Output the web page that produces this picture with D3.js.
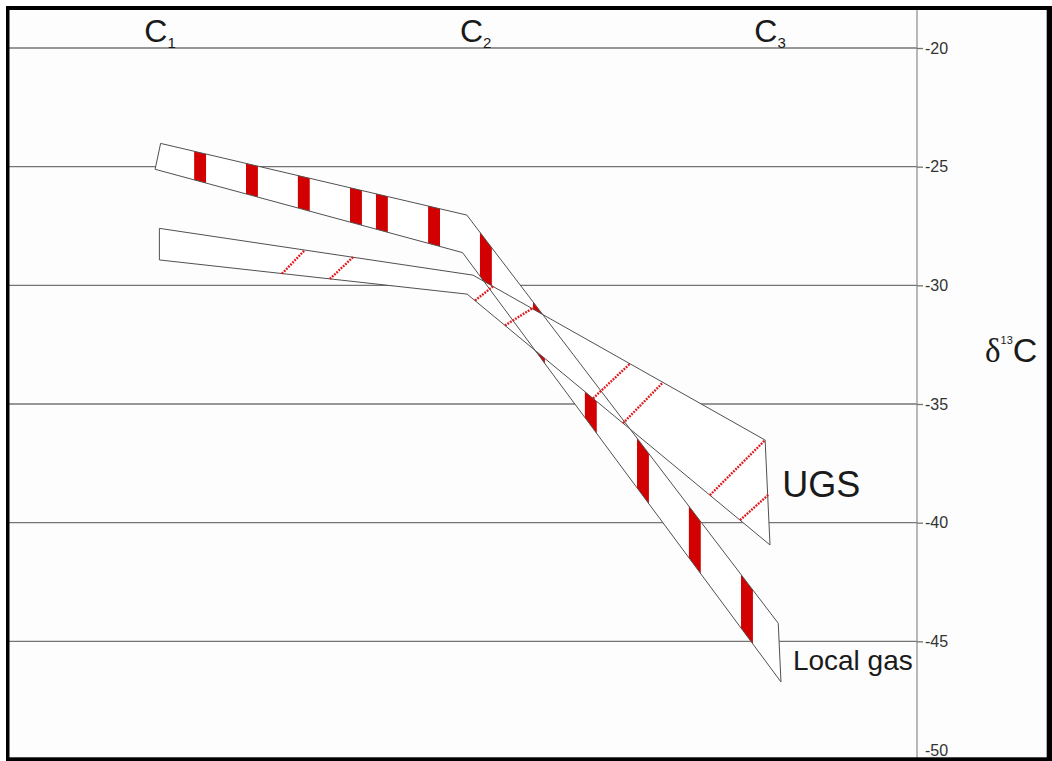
<!DOCTYPE html>
<html>
<head>
<meta charset="utf-8">
<script src="https://cdn.jsdelivr.net/npm/d3@7"></script>
<style>
body { margin:0; background:#fff; }
svg { display:block; font-family: Arial, "Liberation Sans", sans-serif; }
</style>
</head>
<body>
<svg id="chart" width="1052" height="761"></svg>
<script>
"use strict";

var categories = ["C1","C2","C3"];
var categoryPos = [1, 2.035, 3];
var yTicks = [-20,-25,-30,-35,-40,-45,-50];
var gridTicks = [-20,-25,-30,-35,-40,-45];

// band edges as [carbon number, d13C]
var localUpper = [[1.002,-24.02],[2.006,-27.04],[3.027,-44.24]];
var localLower = [[0.984,-25.11],[1.992,-28.62],[3.036,-46.71]];
var ugsUpper = [[0.998,-27.60],[2.026,-29.57],[2.984,-36.52]];
var ugsLower = [[0.998,-28.93],[2.007,-30.37],[3.000,-40.94]];

// red solid stripes of the local gas band (left side, carbon number)
var localStripes = [1.112,1.282,1.452,1.623,1.708,1.879,2.049,2.223,2.393,2.564,2.734,2.905];

// dotted red hatches of the UGS band
var ugsHatch = [
	[[1.400,-29.51],[1.475,-28.51]],
	[[1.557,-29.73],[1.633,-28.81]],
	[[2.033,-30.64],[2.092,-30.04]],
	[[2.131,-31.69],[2.226,-30.93]],
	[[2.420,-34.76],[2.541,-33.30]],
	[[2.518,-35.81],[2.649,-34.09]],
	[[2.803,-38.84],[2.984,-36.52]],
	[[2.902,-39.89],[2.994,-38.83]]
];

var stripeWidth = 0.039;
var W = 1052, H = 761;

var svg = d3.select("#chart");
var x = d3.scaleLinear().domain([1,3]).range([160,770]);
var y = d3.scaleLinear().domain([-20,-50]).range([48,760]);
var line = d3.line().x(function(d){ return x(d[0]); }).y(function(d){ return y(d[1]); });

function polygon(upper, lower) {
	return line(upper.concat(lower.slice().reverse())) + "Z";
}

svg.append("rect").attr("width",W).attr("height",H).attr("fill","#fff");
svg.append("rect").attr("x",9).attr("y",9).attr("width",1040).attr("height",750).attr("fill","#fdfdfd");

// grid
svg.append("g").selectAll("line").data(gridTicks).join("line")
	.attr("x1",9).attr("x2",917)
	.attr("y1",function(d){ return y(d); }).attr("y2",function(d){ return y(d); })
	.attr("stroke","#747474").attr("stroke-width",1.3);

// right axis
svg.append("line").attr("x1",917).attr("x2",917).attr("y1",8).attr("y2",758)
	.attr("stroke","#8a8a8a").attr("stroke-width",1.2);
var axis = d3.axisRight(y).tickValues(yTicks).tickSize(6).tickPadding(2)
	.tickFormat(function(d){ return String(d); });
var ag = svg.append("g").attr("transform","translate(917,0)").call(axis);
ag.select(".domain").remove();
ag.selectAll(".tick line").attr("stroke","#747474").attr("stroke-width",1.3);
ag.selectAll(".tick text").attr("font-size",16).attr("fill","#333")
	.attr("font-family","Arial, 'Liberation Sans', sans-serif");
ag.selectAll(".tick").filter(function(d){ return d === -50; }).select("text").attr("dy","-0.3em");

// category labels
svg.append("g").selectAll("text").data(categories).join("text")
	.attr("x",function(d,i){ return x(categoryPos[i]); })
	.attr("y",42)
	.attr("text-anchor","middle")
	.attr("font-size",32)
	.attr("fill","#1a1a1a")
	.each(function(d){
		var t = d3.select(this);
		t.append("tspan").text(d.charAt(0));
		t.append("tspan").attr("font-size",15).attr("dy",6).text(d.slice(1));
	});

// bands
svg.append("defs").append("clipPath").attr("id","localClip")
	.append("path").attr("d",polygon(localUpper, localLower));

svg.append("path").attr("d",polygon(localUpper, localLower)).attr("fill","#fff");
svg.append("g").attr("clip-path","url(#localClip)")
	.selectAll("rect").data(localStripes).join("rect")
	.attr("x",function(d){ return x(d); })
	.attr("width",function(d){ return x(d+stripeWidth)-x(d); })
	.attr("y",0).attr("height",H)
	.attr("fill","#d20000");
svg.append("path").attr("d",polygon(ugsUpper, ugsLower)).attr("fill","#fff");

svg.append("path").attr("d",polygon(localUpper, localLower))
	.attr("fill","none").attr("stroke","#505050").attr("stroke-width",1);
svg.append("path").attr("d",polygon(ugsUpper, ugsLower))
	.attr("fill","none").attr("stroke","#505050").attr("stroke-width",1);

svg.append("g").selectAll("path").data(ugsHatch).join("path")
	.attr("d",function(d){ return line(d); })
	.attr("fill","none").attr("stroke","#e0181b").attr("stroke-width",2.4)
	.attr("stroke-dasharray","1.8,1.2");

// band names
svg.append("text").attr("x",x(3.04)).attr("y",y(-38.9))
	.attr("font-size",36).attr("fill","#1a1a1a").text("UGS");
svg.append("text").attr("x",x(3.075)).attr("y",y(-46.2))
	.attr("font-size",28).attr("fill","#1a1a1a").text("Local gas");

// axis title
var title = svg.append("text").attr("x",985).attr("y",362).attr("fill","#1a1a1a");
title.append("tspan").attr("font-family","'Liberation Serif', 'DejaVu Serif', serif").attr("font-size",33).text("δ");
title.append("tspan").attr("font-size",11).attr("dy",-18).text("13");
title.append("tspan").attr("font-size",34).attr("dy",18).text("C");

// frame
svg.append("rect").attr("x",6).attr("y",6).attr("width",3.5).attr("height",H-6).attr("fill","#000");
svg.append("rect").attr("x",6).attr("y",6).attr("width",W-6).attr("height",4).attr("fill","#000");
svg.append("rect").attr("x",1046.7).attr("y",6).attr("width",W-1046.7).attr("height",H-6).attr("fill","#000");
svg.append("rect").attr("x",6).attr("y",757.3).attr("width",W-6).attr("height",H-757.3).attr("fill","#000");
</script>
</body>
</html>
